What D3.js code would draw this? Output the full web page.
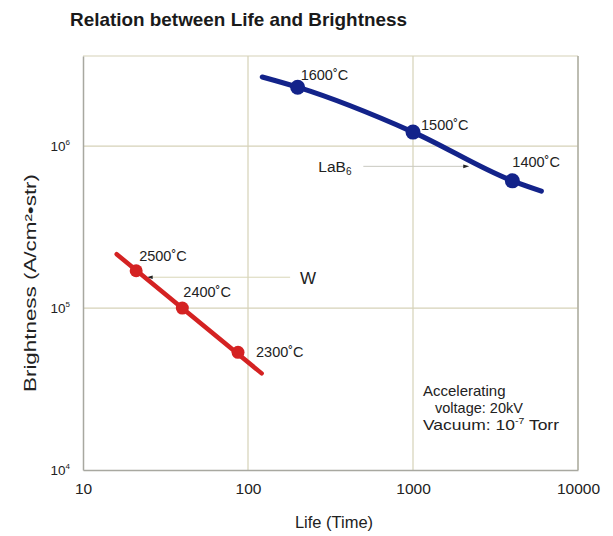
<!DOCTYPE html>
<html>
<head>
<meta charset="utf-8">
<script src="https://cdn.jsdelivr.net/npm/d3@7"></script>
<style>
  html, body { margin: 0; padding: 0; background: #fff; }
  svg { display: block; font-family: "Liberation Sans", Arial, Helvetica, sans-serif; }
</style>
</head>
<body>
<svg id="chart" width="613" height="536"></svg>
<script>
// Life (hours) vs. brightness (A/cm²·str) for two cathode materials
const xTicks = [10, 100, 1000, 10000];
const yTicks = [1e4, 1e5, 1e6];
const yTickExp = ["4", "5", "6"];

// LaB6 cathode: trace of the fitted curve and the marked temperatures
const lab6CurveLife = [122, 200, 1000, 4000, 6000];
const lab6CurveBright = [2.67e6, 2.31e6, 1.22e6, 6.1e5, 5.27e5];
const lab6PointLife = [200, 1000, 4000];
const lab6PointBright = [2.31e6, 1.22e6, 6.1e5];
const lab6PointLabels = ["1600˚C", "1500˚C", "1400˚C"];

// Tungsten (W) cathode
const wCurveLife = [16, 121];
const wCurveBright = [2.15e5, 3.95e4];
const wPointLife = [21, 40, 87];
const wPointBright = [1.7e5, 1.0e5, 5.33e4];
const wPointLabels = ["2500˚C", "2400˚C", "2300˚C"];

// Leader lines naming each series
const lab6LeaderLife = [2050, 500];
const lab6LeaderBright = [7.5e5, 7.5e5];
const wLeaderLife = [26, 180];
const wLeaderBright = [1.55e5, 1.55e5];

const conditions = ["Accelerating", "voltage: 20kV", "Vacuum: 10", " Torr"];

const svg = d3.select("#chart");
const plot = { left: 83, right: 578, top: 56, bottom: 470 };

const x = d3.scaleLog().domain([10, 10000]).range([plot.left, plot.right]);
const y = d3.scaleLog().domain([1e4, 3.6e6]).range([plot.bottom, plot.top]);

const gridColor = "#d6d2b8";
const axisColor = "#a8a8a0";
const ink = "#222";

// Title
svg.append("text")
  .attr("x", 70).attr("y", 26)
  .attr("font-size", 18.5).attr("font-weight", "bold").attr("fill", "#1a1a1a")
  .attr("textLength", 337).attr("lengthAdjust", "spacingAndGlyphs")
  .text("Relation between Life and Brightness");

// Grid lines
const g = svg.append("g");
g.selectAll("line.vg").data(xTicks.slice(1)).join("line")
  .attr("x1", d => x(d)).attr("x2", d => x(d))
  .attr("y1", plot.top).attr("y2", plot.bottom)
  .attr("stroke", gridColor).attr("stroke-width", 1.2);
g.selectAll("line.hg").data(yTicks.slice(1)).join("line")
  .attr("x1", plot.left).attr("x2", plot.right)
  .attr("y1", d => y(d)).attr("y2", d => y(d))
  .attr("stroke", gridColor).attr("stroke-width", 1.2);
g.append("line").attr("x1", plot.left).attr("x2", plot.right)
  .attr("y1", plot.top).attr("y2", plot.top)
  .attr("stroke", gridColor).attr("stroke-width", 1.2);

// Axes
const xAxis = svg.append("g").attr("transform", `translate(0,${plot.bottom})`)
  .call(d3.axisBottom(x).tickValues(xTicks).tickSize(0).tickPadding(13).tickFormat(d3.format("d")));
xAxis.select(".domain").attr("stroke", axisColor).attr("stroke-width", 1.5);
xAxis.selectAll("text").attr("font-size", 15.5).attr("fill", ink)
  .attr("font-family", "Liberation Sans, Arial, sans-serif");

const yAxis = svg.append("g").attr("transform", `translate(${plot.left},0)`)
  .call(d3.axisLeft(y).tickValues(yTicks).tickSize(0).tickPadding(13).tickFormat(() => ""));
yAxis.select(".domain").attr("stroke", axisColor).attr("stroke-width", 1.5);
yAxis.selectAll(".tick text").each(function (d, i) {
  const t = d3.select(this).attr("font-size", 13.5).attr("fill", ink)
    .attr("font-family", "Liberation Sans, Arial, sans-serif");
  t.append("tspan").text("10");
  t.append("tspan").attr("font-size", 8).attr("dy", -6).text(yTickExp[i]);
});

// right frame
svg.append("line").attr("x1", plot.right).attr("x2", plot.right)
  .attr("y1", plot.top).attr("y2", plot.bottom)
  .attr("stroke", axisColor).attr("stroke-width", 1.3);

// Axis titles
svg.append("text")
  .attr("transform", "translate(36,283) rotate(-90)")
  .attr("text-anchor", "middle").attr("font-size", 16).attr("fill", ink)
  .attr("textLength", 218).attr("lengthAdjust", "spacingAndGlyphs")
  .text("Brightness (A/cm²•str)");
svg.append("text")
  .attr("x", 334).attr("y", 528)
  .attr("text-anchor", "middle").attr("font-size", 16.5).attr("fill", ink)
  .text("Life (Time)");

// Leader lines with arrowheads
const defs = svg.append("defs");
defs.append("marker").attr("id", "arrow")
  .attr("viewBox", "0 0 10 10").attr("refX", 2).attr("refY", 5)
  .attr("markerWidth", 9).attr("markerHeight", 6).attr("markerUnits", "userSpaceOnUse")
  .attr("orient", "auto-start-reverse")
  .append("path").attr("d", "M0,2 L10,5 L0,8 Z").attr("fill", ink);

const leader = d3.line().x(d => x(d[0])).y(d => y(d[1]));
svg.append("path")
  .datum(lab6LeaderLife.map((v, i) => [v, lab6LeaderBright[i]]))
  .attr("d", leader).attr("stroke", "#c8c8c0").attr("stroke-width", 1).attr("fill", "none")
  .attr("marker-start", "url(#arrow)");
svg.append("path")
  .datum(wLeaderLife.map((v, i) => [v, wLeaderBright[i]]))
  .attr("d", leader).attr("stroke", "#d8d6b8").attr("stroke-width", 1).attr("fill", "none")
  .attr("marker-start", "url(#arrow)");

// Series names
const lab6Name = svg.append("text")
  .attr("x", x(lab6LeaderLife[1]) - 45).attr("y", y(lab6LeaderBright[0]) + 6)
  .attr("font-size", 15.5).attr("fill", ink);
lab6Name.append("tspan").text("LaB");
lab6Name.append("tspan").attr("font-size", 10).attr("dy", 3).text("6");
svg.append("text")
  .attr("x", x(wLeaderLife[1]) + 10).attr("y", y(wLeaderBright[0]) + 7)
  .attr("font-size", 17).attr("fill", ink).text("W");

// Curves
const curve = d3.line().x(d => x(d[0])).y(d => y(d[1])).curve(d3.curveMonotoneX);
svg.append("path")
  .datum(lab6CurveLife.map((v, i) => [v, lab6CurveBright[i]]))
  .attr("d", curve).attr("fill", "none").attr("stroke", "#13238a")
  .attr("stroke-width", 5).attr("stroke-linecap", "round");
svg.append("path")
  .datum(wCurveLife.map((v, i) => [v, wCurveBright[i]]))
  .attr("d", curve).attr("fill", "none").attr("stroke", "#d42222")
  .attr("stroke-width", 4.5).attr("stroke-linecap", "round");

// Points
svg.selectAll("circle.lab6").data(lab6PointLife).join("circle")
  .attr("cx", d => x(d)).attr("cy", (d, i) => y(lab6PointBright[i]))
  .attr("r", 7.5).attr("fill", "#13238a");
svg.selectAll("circle.w").data(wPointLife).join("circle")
  .attr("cx", d => x(d)).attr("cy", (d, i) => y(wPointBright[i]))
  .attr("r", 6.5).attr("fill", "#d42222");

// Temperature labels
const lab6Off = [[3, -7], [8, -2], [0, -14]];
svg.selectAll("text.lab6t").data(lab6PointLabels).join("text")
  .attr("x", (d, i) => x(lab6PointLife[i]) + lab6Off[i][0])
  .attr("y", (d, i) => y(lab6PointBright[i]) + lab6Off[i][1])
  .attr("font-size", 14.5).attr("fill", ink).text(d => d);
const wOff = [[3, -10], [1, -11], [18, 5]];
svg.selectAll("text.wt").data(wPointLabels).join("text")
  .attr("x", (d, i) => x(wPointLife[i]) + wOff[i][0])
  .attr("y", (d, i) => y(wPointBright[i]) + wOff[i][1])
  .attr("font-size", 14.5).attr("fill", ink).text(d => d);

// Operating conditions
const cond = svg.append("g").attr("font-size", 15).attr("fill", ink);
cond.append("text").attr("x", 423).attr("y", 396).text(conditions[0]);
cond.append("text").attr("x", 435).attr("y", 413).attr("font-size", 14.5).text(conditions[1]);
const vac = cond.append("text").attr("x", 423).attr("y", 430)
  .attr("textLength", 136).attr("lengthAdjust", "spacingAndGlyphs");
vac.append("tspan").text(conditions[2]);
vac.append("tspan").attr("font-size", 9).attr("dy", -6).text("-7");
vac.append("tspan").attr("dy", 6).text(conditions[3]);
</script>
</body>
</html>
